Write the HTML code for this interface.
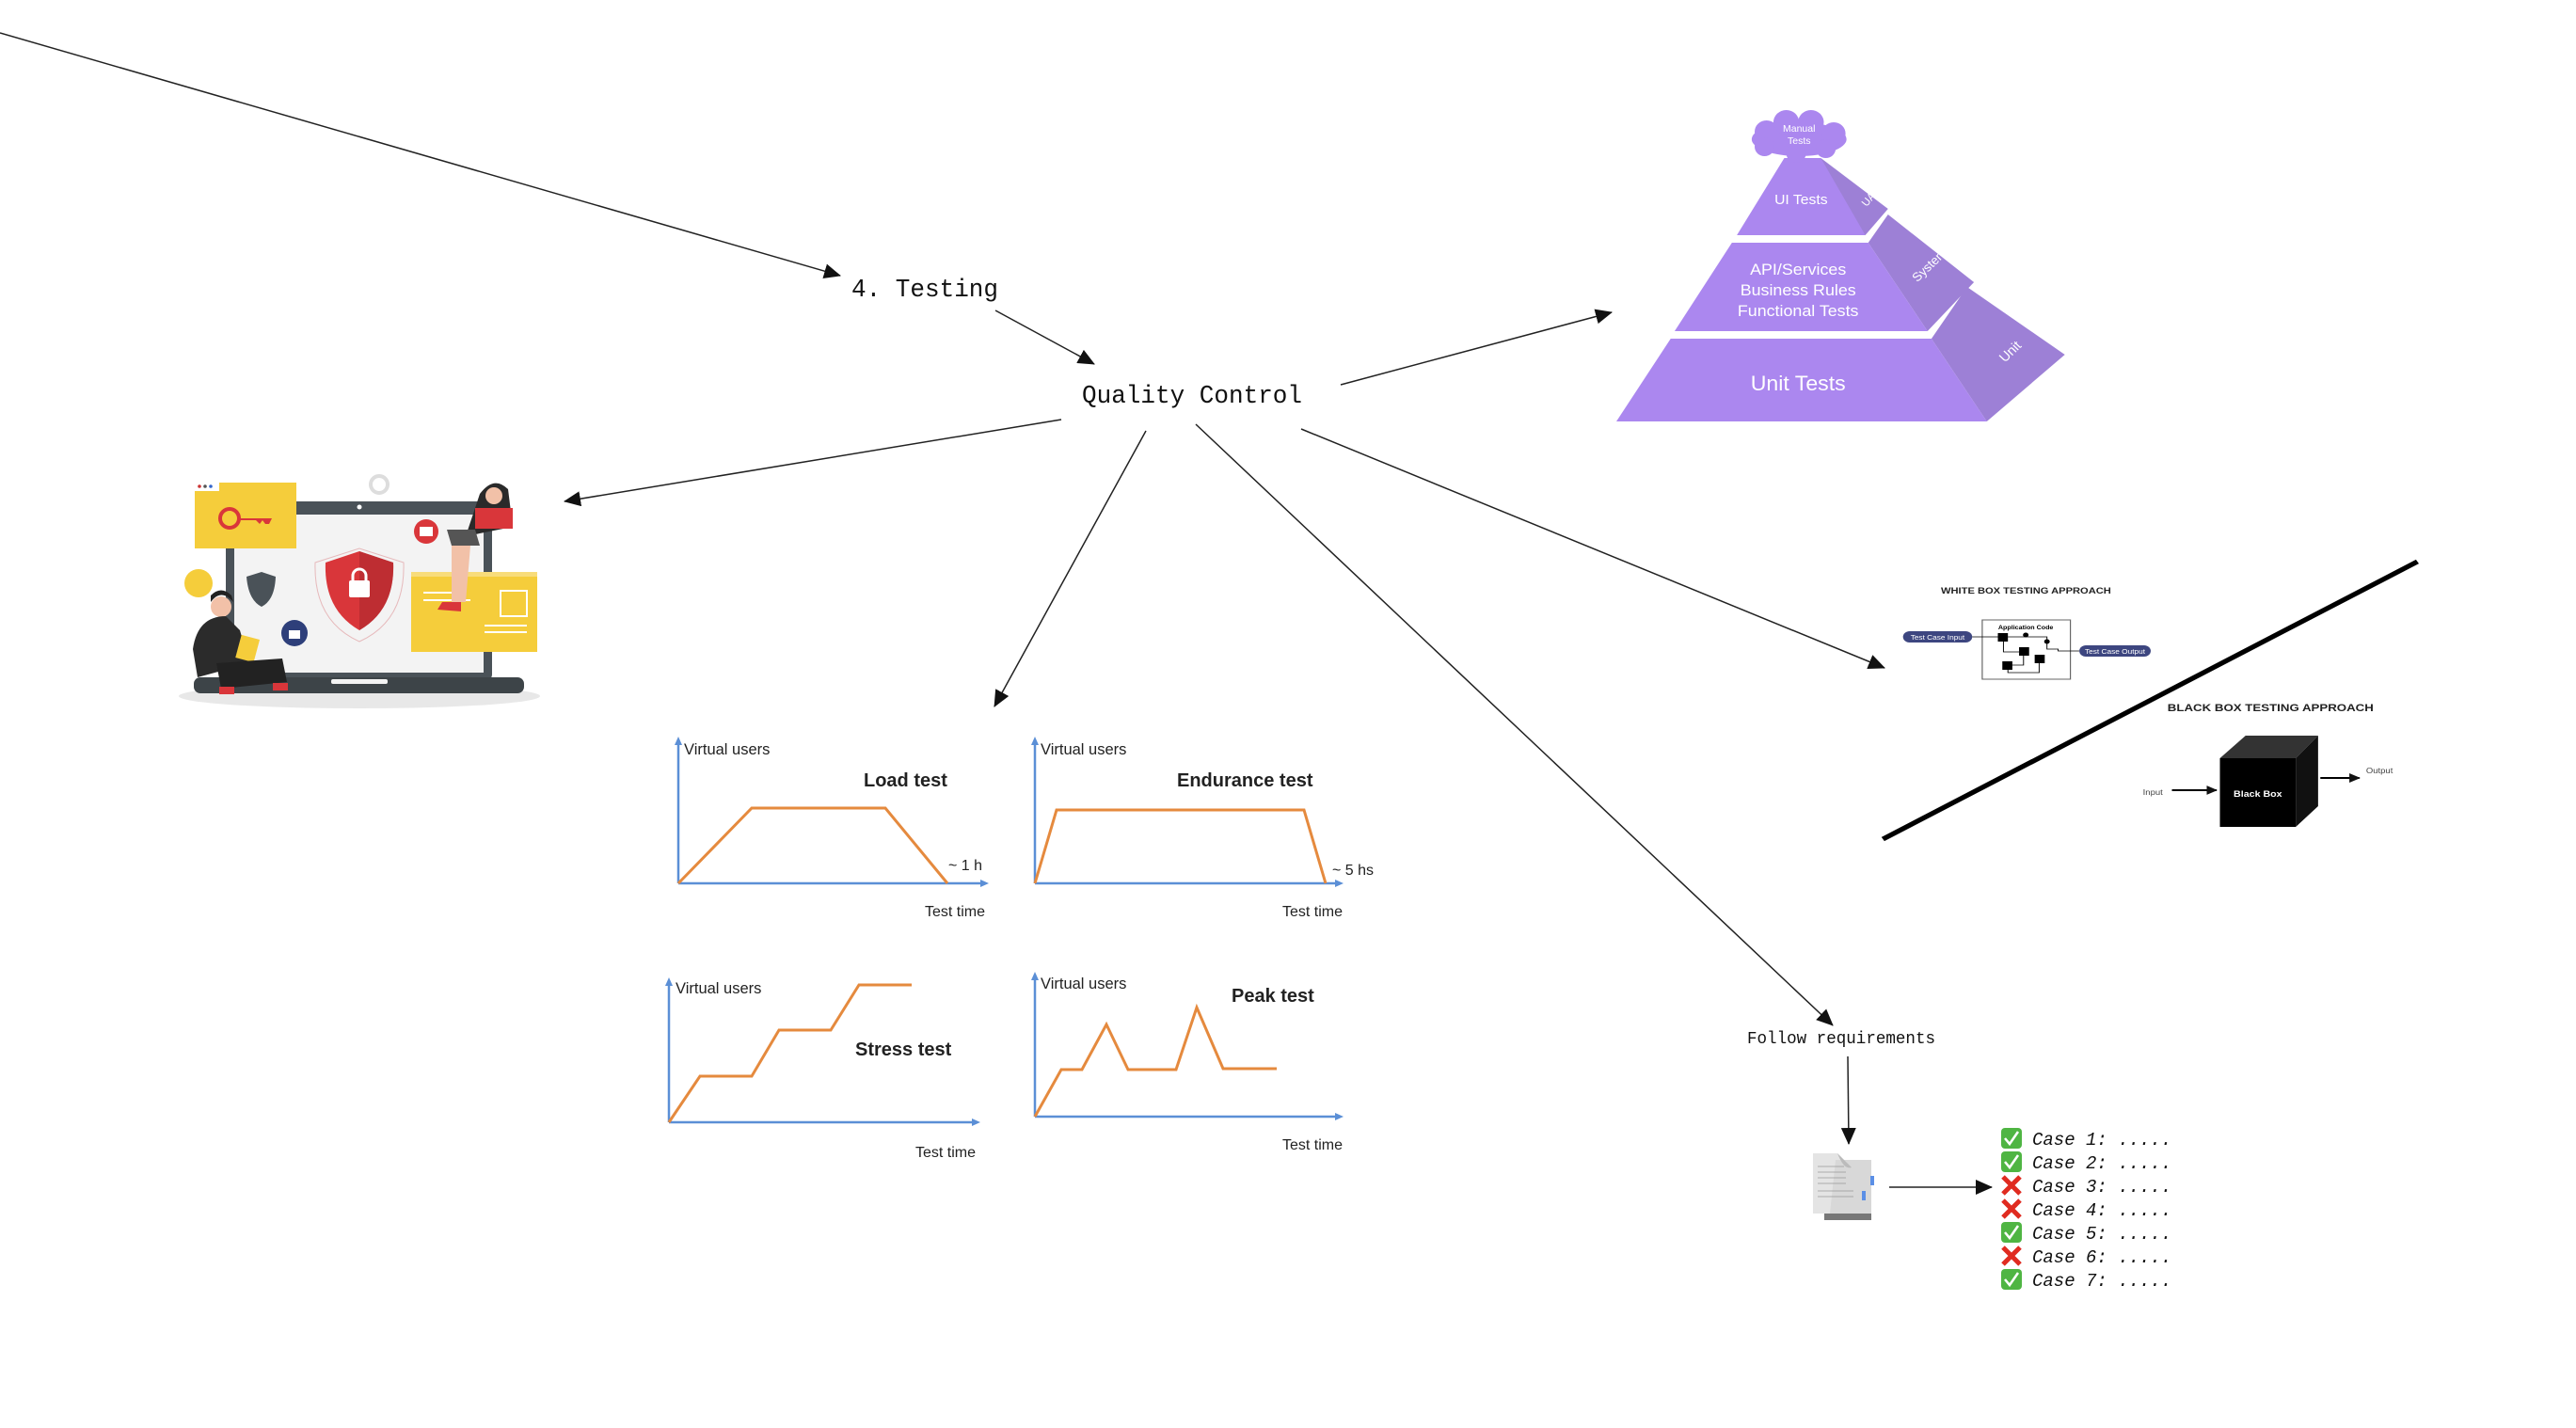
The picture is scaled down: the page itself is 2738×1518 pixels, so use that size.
<!DOCTYPE html>
<html><head><meta charset="utf-8"><style>
html,body{margin:0;padding:0;background:#fff;}
svg{display:block;}
.hand{font-family:"Liberation Mono",monospace;fill:#111;}
.sans{font-family:"Liberation Sans",sans-serif;}
</style></head><body>
<svg width="2738" height="1518" viewBox="0 0 2738 1518" xmlns="http://www.w3.org/2000/svg">
<defs>
<marker id="ah" markerWidth="10" markerHeight="10" refX="9" refY="5" orient="auto" markerUnits="userSpaceOnUse" viewBox="0 0 10 10">
<path d="M0,0 L10,5 L0,10 z" fill="#111"/></marker>
<marker id="ah2" markerWidth="18" markerHeight="16" refX="17" refY="8" orient="auto" markerUnits="userSpaceOnUse" viewBox="0 0 18 16">
<path d="M0,0 L18,8 L0,16 z" fill="#111"/></marker>
</defs>
<rect width="2738" height="1518" fill="#fff"/>

<!-- connectors -->
<g stroke="#222" stroke-width="1.5" fill="none" marker-end="url(#ah2)">
<line x1="0" y1="35" x2="893" y2="293"/>
<line x1="1058" y1="330" x2="1163" y2="387"/>
<line x1="1128" y1="446" x2="600" y2="533"/>
<line x1="1218" y1="458" x2="1057" y2="751"/>
<line x1="1425" y1="409" x2="1713" y2="332"/>
<line x1="1383" y1="456" x2="2003" y2="710"/>
<line x1="1271" y1="451" x2="1948" y2="1090"/>
<line x1="1964" y1="1123" x2="1965" y2="1216"/>
<line x1="2008" y1="1262" x2="2117" y2="1262"/>
</g>

<!-- labels -->
<text class="hand" x="905" y="315" font-size="27" textLength="156" lengthAdjust="spacingAndGlyphs">4. Testing</text>
<text class="hand" x="1150" y="428" font-size="27" textLength="234" lengthAdjust="spacingAndGlyphs">Quality Control</text>
<text class="hand" x="1857" y="1109" font-size="18" textLength="200" lengthAdjust="spacingAndGlyphs">Follow requirements</text>

<!-- pyramid -->
<g transform="translate(1718,0) scale(1.05,1) translate(-1718,0)">
<path d="M1925,168 L1993,222 L1970,250 L1912,250 Z" fill="#9d80d6"/>
<path d="M1888,168 L1925,168 L1970,250 L1840,250 Z" fill="#ab87ef"/>
<path d="M1973,258 L1993,228 L2080,300 L2033,352 Z" fill="#9d80d6"/>
<path d="M1835,258 L1973,258 L2033,352 L1777,352 Z" fill="#ab87ef"/>
<path d="M2037,360 L2073,305 L2172,377 L2093,448 Z" fill="#9d80d6"/>
<path d="M1773,360 L2037,360 L2093,448 L1718,448 Z" fill="#ab87ef"/>
<g fill="#ab87ef">
<ellipse cx="1903" cy="148" rx="48" ry="18"/>
<circle cx="1870" cy="140" r="12"/><circle cx="1890" cy="130" r="13"/><circle cx="1915" cy="130" r="13"/><circle cx="1938" cy="142" r="12"/>
<circle cx="1868" cy="156" r="10"/><circle cx="1900" cy="163" r="10"/><circle cx="1930" cy="158" r="10"/>
</g>
<g class="sans" fill="#fff" text-anchor="middle">
<text x="1903" y="140" font-size="10">Manual</text>
<text x="1903" y="153" font-size="10">Tests</text>
<text x="1905" y="217" font-size="15">UI Tests</text>
<text x="1902" y="292" font-size="17">API/Services</text>
<text x="1902" y="314" font-size="17">Business Rules</text>
<text x="1902" y="336" font-size="17">Functional Tests</text>
<text x="1902" y="415" font-size="22">Unit Tests</text>
<text x="1978" y="212" font-size="11" transform="rotate(-50 1978 212)">UAT</text>
<text x="2038" y="285" font-size="13" transform="rotate(-45 2038 285)">System</text>
<text x="2120" y="377" font-size="14" transform="rotate(-45 2120 377)">Unit</text>
</g>
</g>

<!-- white/black box -->
<g transform="translate(1980,0) scale(1.186,1) translate(-1980,0)">
<line x1="1998" y1="892" x2="2477" y2="597" stroke="#000" stroke-width="5"/>
<text class="sans" x="2050" y="631" font-size="9.4" font-weight="bold" fill="#222">WHITE BOX TESTING APPROACH</text>
<rect x="2016" y="671" width="62" height="12" rx="6" fill="#3d4680"/>
<text class="sans" x="2047" y="680" font-size="7" fill="#fff" text-anchor="middle">Test Case Input</text>
<rect x="2087" y="659" width="79" height="63" fill="#fff" stroke="#666" stroke-width="1"/>
<text class="sans" x="2126" y="669" font-size="6" font-weight="bold" text-anchor="middle">Application Code</text>
<g fill="#000"><rect x="2101" y="673" width="9" height="9"/><rect x="2120" y="688" width="9" height="9"/><rect x="2105" y="703" width="9" height="9"/><rect x="2134" y="696" width="9" height="9"/>
<circle cx="2126" cy="675" r="2.5"/><circle cx="2145" cy="682" r="2.5"/></g>
<path d="M2078,677 H2101 M2110,677 H2145 V690 H2155 V692 H2174 M2106,682 V693 H2120 M2110,712 V715 H2138 V705 M2114,707 H2124 V697" stroke="#000" fill="none" stroke-width="0.8"/>
<rect x="2174" y="686" width="64" height="12" rx="6" fill="#3d4680"/>
<text class="sans" x="2206" y="695" font-size="7" fill="#fff" text-anchor="middle">Test Case Output</text>
<text class="sans" x="2253" y="756" font-size="11.2" font-weight="bold" fill="#222">BLACK BOX TESTING APPROACH</text>
<path d="M2300,806 L2323,782 L2388,782 L2368,806 Z" fill="#333"/>
<path d="M2368,806 L2388,782 L2388,857 L2368,879 Z" fill="#111"/>
<rect x="2300" y="806" width="68" height="73" fill="#000"/>
<text class="sans" x="2334" y="847" font-size="9" font-weight="bold" fill="#fff" text-anchor="middle">Black Box</text>
<text class="sans" x="2231" y="845" font-size="8" fill="#444">Input</text>
<line x1="2257" y1="840" x2="2297" y2="840" stroke="#000" stroke-width="2" marker-end="url(#ah)"/>
<line x1="2390" y1="827" x2="2425" y2="827" stroke="#000" stroke-width="2" marker-end="url(#ah)"/>
<text class="sans" x="2431" y="822" font-size="8" fill="#444">Output</text>
</g>

<!-- charts -->
<g fill="none" stroke="#5b8fd6" stroke-width="2.5">
<path d="M721,939 V790 M721,939 H1044"/>
<path d="M1100,939 V790 M1100,939 H1421"/>
<path d="M711,1193 V1046 M711,1193 H1035"/>
<path d="M1100,1187 V1040 M1100,1187 H1421"/>
</g>
<g fill="#5b8fd6">
<path d="M717,792 L721,783 L725,792Z"/><path d="M1042,935 L1051,939 L1042,943Z"/>
<path d="M1096,792 L1100,783 L1104,792Z"/><path d="M1419,935 L1428,939 L1419,943Z"/>
<path d="M707,1048 L711,1039 L715,1048Z"/><path d="M1033,1189 L1042,1193 L1033,1197Z"/>
<path d="M1096,1042 L1100,1033 L1104,1042Z"/><path d="M1419,1183 L1428,1187 L1419,1191Z"/>
</g>
<g fill="none" stroke="#e58a3e" stroke-width="3">
<path d="M721,939 L799,859 L941,859 L1007,939"/>
<path d="M1100,939 L1123,861 L1386,861 L1409,939"/>
<path d="M711,1193 L744,1144 L799,1144 L828,1095 L883,1095 L913,1047 L969,1047"/>
<path d="M1100,1187 L1128,1137 L1150,1137 L1176,1089 L1199,1137 L1250,1137 L1272,1071 L1300,1136 L1357,1136"/>
</g>
<g class="sans" fill="#222">
<text x="727" y="802" font-size="16.5">Virtual users</text>
<text x="1106" y="802" font-size="16.5">Virtual users</text>
<text x="718" y="1056" font-size="16.5">Virtual users</text>
<text x="1106" y="1051" font-size="16.5">Virtual users</text>
<text x="918" y="836" font-size="20" font-weight="bold">Load test</text>
<text x="1251" y="836" font-size="20" font-weight="bold">Endurance test</text>
<text x="909" y="1122" font-size="20" font-weight="bold">Stress test</text>
<text x="1309" y="1065" font-size="20" font-weight="bold">Peak test</text>
<text x="1008" y="925" font-size="16">~ 1 h</text>
<text x="1416" y="930" font-size="16">~ 5 hs</text>
<text x="983" y="974" font-size="16">Test time</text>
<text x="1363" y="974" font-size="16">Test time</text>
<text x="973" y="1230" font-size="16">Test time</text>
<text x="1363" y="1222" font-size="16">Test time</text>
</g>

<!-- security illustration -->
<g>
<ellipse cx="382" cy="740" rx="192" ry="13" fill="#e8e8e8"/>
<rect x="240" y="533" width="283" height="190" rx="6" fill="#4a5258"/>
<rect x="249" y="547" width="265" height="168" fill="#f3f3f3"/>
<circle cx="382" cy="539" r="2.5" fill="#fff"/>
<rect x="206" y="720" width="351" height="17" rx="7" fill="#3d4448"/>
<rect x="352" y="722" width="60" height="5" rx="2" fill="#f3f3f3"/>
<rect x="233" y="513" width="82" height="10" fill="#f5cd3b"/>
<rect x="207" y="522" width="108" height="61" fill="#f5cd3b"/>
<circle cx="212" cy="517" r="1.8" fill="#c33"/><circle cx="218" cy="517" r="1.8" fill="#555"/><circle cx="224" cy="517" r="1.8" fill="#36c"/>
<circle cx="244" cy="551" r="10" fill="none" stroke="#d9363a" stroke-width="4"/>
<path d="M254,551 H289 L286,557 H282 L279,553 L276,557 L272,553 H254" fill="#d9363a"/>
<path d="M382,583 L335,598 Q333,660 382,682 Q431,660 429,598 Z" fill="none" stroke="#e6b9bb" stroke-width="1"/>
<path d="M382,586 L346,598 Q344,648 382,670 Q420,648 418,598 Z" fill="#d9363a"/>
<path d="M382,586 L418,598 Q420,648 382,670 Z" fill="#a8262b" opacity="0.55"/>
<rect x="371" y="617" width="22" height="18" rx="2" fill="#fff"/>
<path d="M375,618 V612 A7,7 0 0 1 389,612 V618" fill="none" stroke="#fff" stroke-width="3"/>
<path d="M262,613 L278,608 L293,613 Q292,638 278,645 Q264,638 262,613Z" fill="#4a5258"/>
<circle cx="313" cy="673" r="14" fill="#2e3f7a"/>
<rect x="307" y="670" width="12" height="9" fill="#fff"/>
<circle cx="211" cy="620" r="15" fill="#f5cd3b"/>
<circle cx="453" cy="565" r="13" fill="#d9363a"/>
<rect x="446" y="560" width="14" height="10" fill="#fff"/>
<rect x="437" y="610" width="134" height="83" fill="#f5cd3b"/>
<rect x="437" y="608" width="134" height="5" fill="#f8dc7a"/>
<rect x="532" y="628" width="28" height="27" fill="none" stroke="#fff" stroke-width="2"/>
<g stroke="#fff" stroke-width="2"><line x1="450" y1="630" x2="490" y2="630"/><line x1="450" y1="638" x2="500" y2="638"/><line x1="515" y1="665" x2="560" y2="665"/><line x1="515" y1="672" x2="560" y2="672"/></g>
<path d="M510,525 Q525,505 540,520 L545,560 L495,570 Z" fill="#2a2a2a"/>
<rect x="505" y="540" width="40" height="22" fill="#d9363a"/>
<circle cx="525" cy="527" r="9" fill="#f2c1a8"/>
<path d="M475,563 L505,563 L510,580 L480,580Z" fill="#555"/>
<path d="M480,580 L500,580 L495,640 L480,640Z" fill="#f2c1a8"/>
<path d="M470,640 L490,640 L490,650 L465,648Z" fill="#d9363a"/>
<circle cx="235" cy="645" r="11" fill="#f2c1a8"/>
<path d="M224,640 Q235,625 248,640 L246,633 Q235,622 224,633Z" fill="#222"/>
<path d="M205,690 Q210,655 240,655 L255,670 L265,705 L210,720 Z" fill="#2b2b2b"/>
<rect x="253" y="677" width="20" height="25" fill="#f5cd3b" transform="rotate(15 263 690)"/>
<path d="M230,705 L300,700 L305,725 L235,732Z" fill="#222"/>
<rect x="233" y="730" width="16" height="8" fill="#d9363a"/><rect x="290" y="726" width="16" height="8" fill="#d9363a"/>
<circle cx="403" cy="515" r="9" fill="none" stroke="#ddd" stroke-width="4"/>
</g>

<!-- document icon -->
<g>
<rect x="1939" y="1243" width="50" height="54" fill="#777"/>
<path d="M1927,1226 L1953,1226 L1968,1241 L1968,1290 L1927,1290 Z" fill="#e4e4e4"/>
<path d="M1951,1233 L1989,1233 L1989,1290 L1945,1290 Z" fill="#d8d8d8"/>
<path d="M1953,1226 Q1960,1244 1968,1241" fill="#bbb"/>
<g stroke="#999" stroke-width="0.8"><line x1="1932" y1="1240" x2="1960" y2="1240"/><line x1="1932" y1="1246" x2="1962" y2="1246"/><line x1="1932" y1="1252" x2="1962" y2="1252"/><line x1="1932" y1="1258" x2="1962" y2="1258"/><line x1="1932" y1="1266" x2="1970" y2="1266"/><line x1="1932" y1="1272" x2="1970" y2="1272"/></g>
<rect x="1988" y="1250" width="4" height="10" fill="#5b8fe6"/>
<rect x="1979" y="1266" width="4" height="10" fill="#5b8fe6"/>
</g>

<!-- case list -->
<g font-family="Liberation Mono,monospace" font-size="19" font-style="italic" fill="#111">
<g>
<rect x="2127" y="1199" width="22" height="22" rx="4" fill="#4fb543"/><path d="M2131,1210 L2136,1216 L2145,1203" stroke="#fff" stroke-width="2.5" fill="none"/>
<text x="2160" y="1217">Case 1: .....</text>
</g>
<g>
<rect x="2127" y="1224" width="22" height="22" rx="4" fill="#4fb543"/><path d="M2131,1235 L2136,1241 L2145,1228" stroke="#fff" stroke-width="2.5" fill="none"/>
<text x="2160" y="1242">Case 2: .....</text>
</g>
<g>
<path d="M2129,1251 L2147,1269 M2147,1251 L2129,1269" stroke="#e02b20" stroke-width="5"/>
<text x="2160" y="1267">Case 3: .....</text>
</g>
<g>
<path d="M2129,1276 L2147,1294 M2147,1276 L2129,1294" stroke="#e02b20" stroke-width="5"/>
<text x="2160" y="1292">Case 4: .....</text>
</g>
<g>
<rect x="2127" y="1299" width="22" height="22" rx="4" fill="#4fb543"/><path d="M2131,1310 L2136,1316 L2145,1303" stroke="#fff" stroke-width="2.5" fill="none"/>
<text x="2160" y="1317">Case 5: .....</text>
</g>
<g>
<path d="M2129,1326 L2147,1344 M2147,1326 L2129,1344" stroke="#e02b20" stroke-width="5"/>
<text x="2160" y="1342">Case 6: .....</text>
</g>
<g>
<rect x="2127" y="1349" width="22" height="22" rx="4" fill="#4fb543"/><path d="M2131,1360 L2136,1366 L2145,1353" stroke="#fff" stroke-width="2.5" fill="none"/>
<text x="2160" y="1367">Case 7: .....</text>
</g>
</g>
</svg>
</body></html>
